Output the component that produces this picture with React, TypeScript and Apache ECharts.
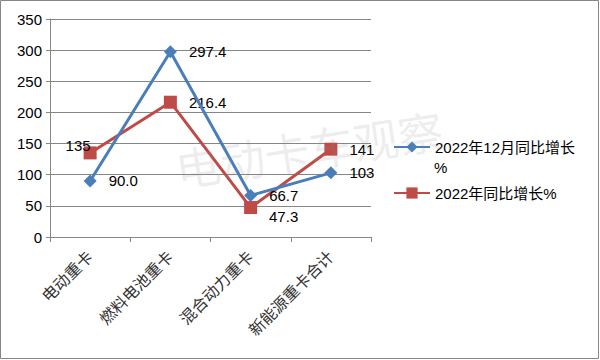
import React, { useEffect, useRef } from "react";
import * as echarts from "echarts";

const categories = ["电动重卡", "燃料电池重卡", "混合动力重卡", "新能源重卡合计"];
const seriesNames = ["2022年12月同比增长%", "2022年同比增长%"];
const decGrowth = [90.0, 297.4, 66.7, 103];
const decLabels = ["90.0", "297.4", "66.7", "103"];
const yearGrowth = [135, 216.4, 47.3, 141];
const yearLabels = ["135", "216.4", "47.3", "141"];
const yTicks = { min: 0, max: 350, interval: 50 };

const FONT = "'Liberation Sans', 'Noto Sans CJK SC', sans-serif";

export default function App() {
  const ref = useRef<HTMLDivElement>(null);
  useEffect(() => {
    if (!ref.current) return;
    const chart = echarts.init(ref.current, undefined, { renderer: "svg" });
    const blue = "#4A7EBB";
    const red = "#BE4B48";
    const redData = yearGrowth.map((v, i) => {
      if (i === 0) return { value: v, label: { position: "inside", offset: [-12, -7] } };
      if (i === 2) return { value: v, label: { position: "inside", offset: [33, 9] } };
      return v;
    });
    chart.setOption({
      animation: false,
      backgroundColor: "#fff",
      textStyle: { fontFamily: FONT },
      grid: { left: 50, right: 229, top: 19, bottom: 123 },
      xAxis: {
        type: "category",
        data: categories,
        boundaryGap: true,
        axisLine: { lineStyle: { color: "#868686", width: 1 } },
        axisTick: { show: true, length: 5, lineStyle: { color: "#868686" } },
        axisLabel: { rotate: 45, fontSize: 16, color: "#333", margin: 17, fontFamily: FONT },
      },
      yAxis: {
        type: "value",
        min: yTicks.min,
        max: yTicks.max,
        interval: yTicks.interval,
        axisLine: { show: true, lineStyle: { color: "#868686", width: 1 } },
        axisTick: { show: true, length: 4, lineStyle: { color: "#868686" } },
        splitLine: { lineStyle: { color: "#868686", width: 1 } },
        axisLabel: { fontSize: 15, color: "#000", margin: 8, fontFamily: FONT },
      },
      legend: {
        orient: "vertical",
        left: 388,
        top: 132,
        itemWidth: 36,
        itemHeight: 14,
        itemGap: 26,
        data: seriesNames,
        formatter: (n: string) => (n === seriesNames[0] ? "2022年12月同比增长" : n),
        textStyle: { fontSize: 15, color: "#000", lineHeight: 20, fontFamily: FONT },
      },
      graphic: [
        {
          type: "rect",
          shape: { x: 0.5, y: 0.5, width: 598, height: 358 },
          style: { fill: "none", stroke: "#868686", lineWidth: 1 },
          silent: true,
        },
        {
          type: "text",
          x: 434,
          y: 167,
          style: {
            text: "%",
            fontSize: 15,
            fill: "#000",
            fontFamily: FONT,
            verticalAlign: "middle",
          },
          silent: true,
        },
        {
          type: "text",
          x: 172,
          y: 146,
          rotation: 0.15,
          style: {
            text: "电动卡车观察",
            fontSize: 45,
            fill: "rgba(140,140,140,0.16)",
            fontFamily: "'Noto Sans CJK SC', sans-serif",
            verticalAlign: "top",
          },
          silent: true,
          z: 100,
        },
      ],
      series: [
        {
          name: seriesNames[0],
          type: "line",
          data: decGrowth,
          color: blue,
          lineStyle: { width: 3, color: blue },
          symbol: "diamond",
          symbolSize: 13,
          itemStyle: { color: blue },
          label: {
            show: true,
            position: "right",
            distance: 12,
            fontSize: 15,
            color: "#000",
            fontFamily: FONT,
            formatter: (p: any) => decLabels[p.dataIndex],
          },
          z: 3,
        },
        {
          name: seriesNames[1],
          type: "line",
          data: redData,
          color: red,
          lineStyle: { width: 3, color: red },
          symbol: "rect",
          symbolSize: 13,
          itemStyle: { color: red },
          label: {
            show: true,
            position: "right",
            distance: 12,
            fontSize: 15,
            color: "#000",
            fontFamily: FONT,
            formatter: (p: any) => yearLabels[p.dataIndex],
          },
          z: 2,
        },
      ],
    });
    return () => chart.dispose();
  }, []);
  return (
    <div
      ref={ref}
      style={{ position: "fixed", left: 0, top: 0, width: 600, height: 360 }}
    />
  );
}
